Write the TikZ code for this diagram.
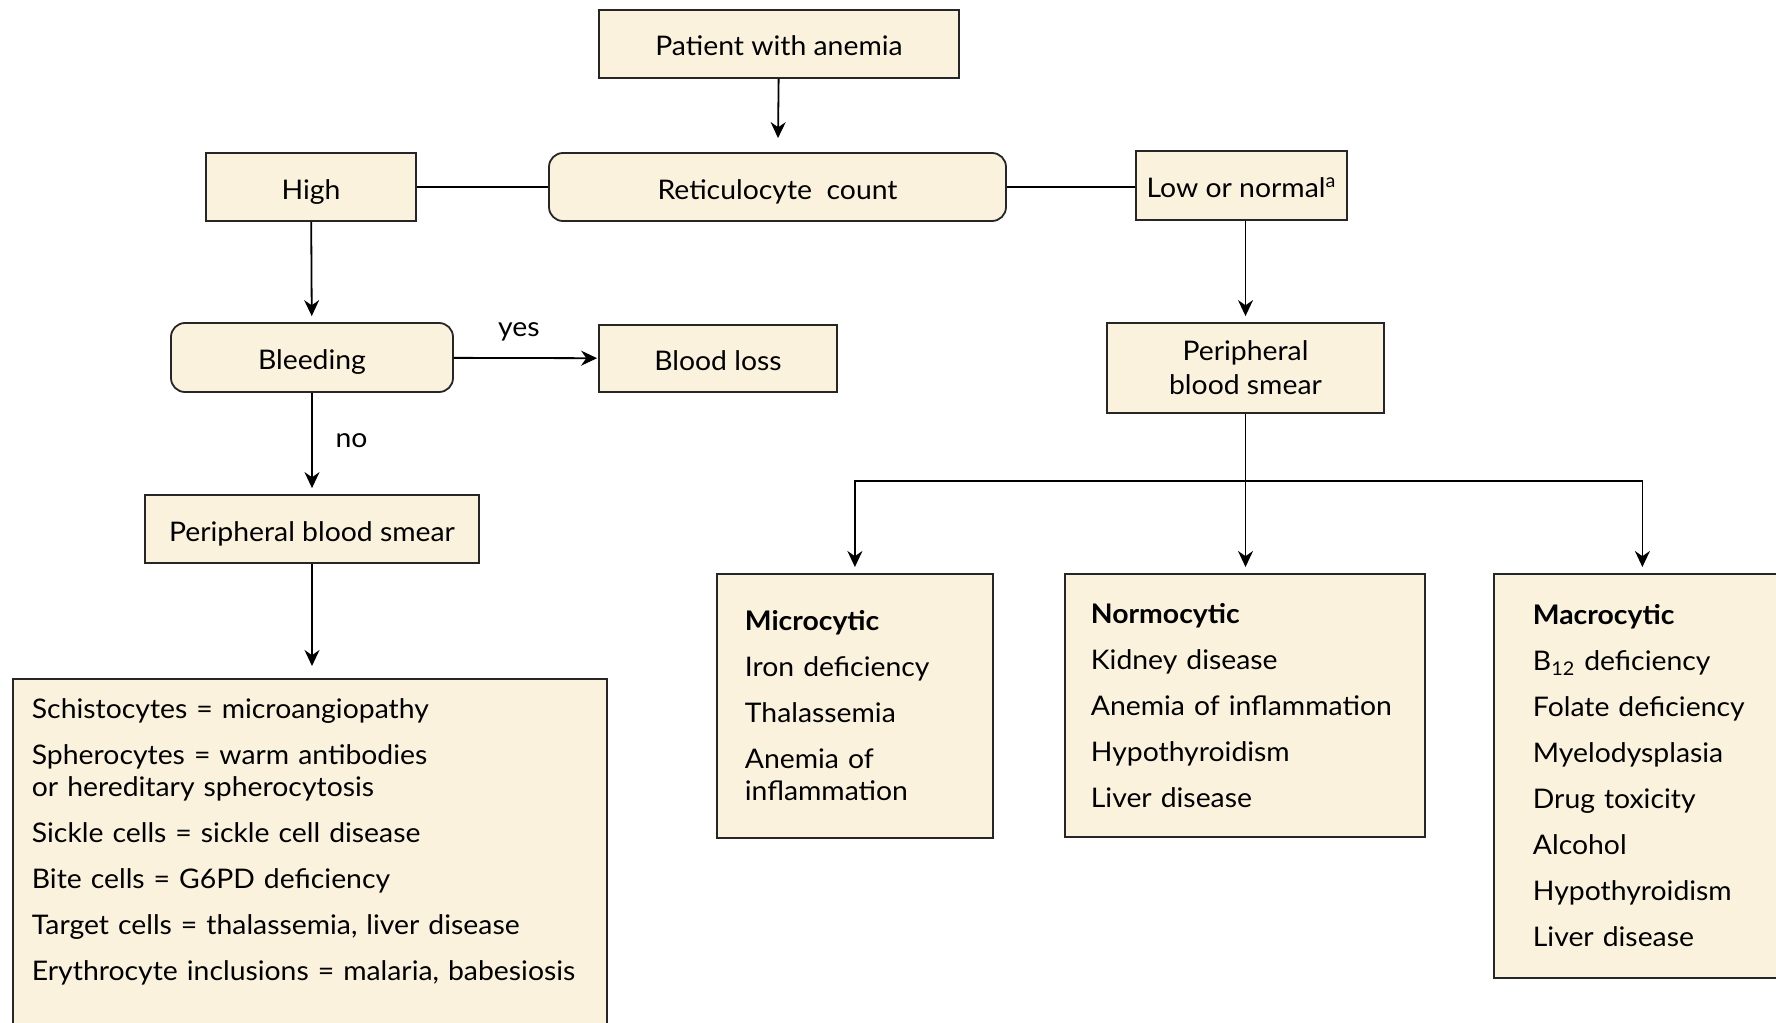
\documentclass[tikz,border=0pt]{standalone}
\usepackage{fontspec}
\setmainfont{Lato}[FakeStretch=1.05]
\usetikzlibrary{arrows.meta, positioning, calc}
\definecolor{cream}{HTML}{FAF2DC}

\begin{document}
\begin{tikzpicture}[
  x=0.5pt, y=-0.5pt,
  font=\fontsize{13.5}{16}\selectfont,
  line width=0.9pt,
  box/.style={rectangle, draw=black!85, fill=cream, align=center, inner sep=2pt},
  onebox/.style={box, text height=12pt, text depth=0pt},
  rbox/.style={onebox, rounded corners=7pt},
  list/.style={box, anchor=north west, align=left},
  arr/.style={-{Stealth[length=8pt, width=7.5pt]}, shorten >=3pt}
]
\useasboundingbox (0,0) rectangle (1776,1022);
\clip (0,0) rectangle (1776,1022);

% top of the chart
\node[onebox, minimum width=180pt, minimum height=34pt] (pat) at (779,44) {Patient with anemia};
\node[rbox, minimum width=228.5pt, minimum height=34pt] (ret) at (777.5,187) {Reticulocyte~~count};
\node[onebox, minimum width=105pt, minimum height=34pt] (high) at (311,187) {High};
\node[onebox, minimum width=105.5pt, minimum height=34.5pt] (low) at (1241.5,185.5) {Low or normal\textsuperscript{a}};

% high branch
\node[rbox, minimum width=141pt, minimum height=34.5pt] (bleed) at (312,357.5) {Bleeding};
\node[onebox, minimum width=119pt, minimum height=33.5pt] (loss) at (718,358.5) {Blood loss};
\node[onebox, minimum width=167pt, minimum height=34pt] (psl) at (312,529) {Peripheral blood smear};
\node[list, text width=278pt, inner xsep=9.5pt, inner ysep=10.5pt, text height=9.5pt, text depth=200pt] (morph) at (12,678)
  {Schistocytes = microangiopathy\\[7pt]
   Spherocytes = warm antibodies\\ or hereditary spherocytosis\\[7pt]
   Sickle cells = sickle cell disease\\[7pt]
   Bite cells = G6PD deficiency\\[7pt]
   Target cells = thalassemia, liver disease\\[7pt]
   Erythrocyte inclusions = malaria, babesiosis};

% low or normal branch
\node[box, minimum width=138.5pt, minimum height=45pt, font=\fontsize{13.5}{17}\selectfont] (psr) at (1245.5,368) {Peripheral\\blood smear};
\node[list, minimum height=132pt, text width=110pt, inner xsep=14pt] (micro) at (716,573)
  {\textbf{Microcytic}\\[7pt] Iron deficiency\\[7pt] Thalassemia\\[7pt] Anemia of\\ inflammation};
\node[list, minimum height=131.5pt, text width=154pt, inner xsep=13pt] (normo) at (1064,573)
  {\textbf{Normocytic}\\[7pt] Kidney disease\\[7pt] Anemia of inflammation\\[7pt] Hypothyroidism\\[7pt] Liver disease};
\node[list, minimum height=202pt, text width=109.5pt, inner xsep=19.5pt] (macro) at (1493,573)
  {\textbf{Macrocytic}\\[7pt] B\textsubscript{12} deficiency\\[7pt] Folate deficiency\\[7pt] Myelodysplasia\\[7pt]
   Drug toxicity\\[7pt] Alcohol\\[7pt] Hypothyroidism\\[7pt] Liver disease};
\coordinate (split) at (1245.5,481);

% connectors
\draw[arr, shorten >=7pt] (pat) -- (ret);
\draw (high) -- (ret);
\draw (ret.east) -- (ret.east -| low.west);
\draw[arr] (high) -- (bleed);
\draw[arr, shorten >=0.5pt] (bleed) -- node[above=4.5pt, pos=0.45]{yes} (loss);
\draw[arr] (bleed) -- node[right, xshift=8pt, pos=0.47]{no} (psl);
\draw[arr, shorten >=6pt] (psl.south) -- (psl.south |- morph.north);
\draw[arr] (psr.north |- low.south) -- (psr.north);
\draw[arr] (psr.south) -- (psr.south |- normo.north);
\draw[arr] (split) -| (micro.north);
\draw[arr] (split) -| (macro.north);
\end{tikzpicture}
\end{document}
